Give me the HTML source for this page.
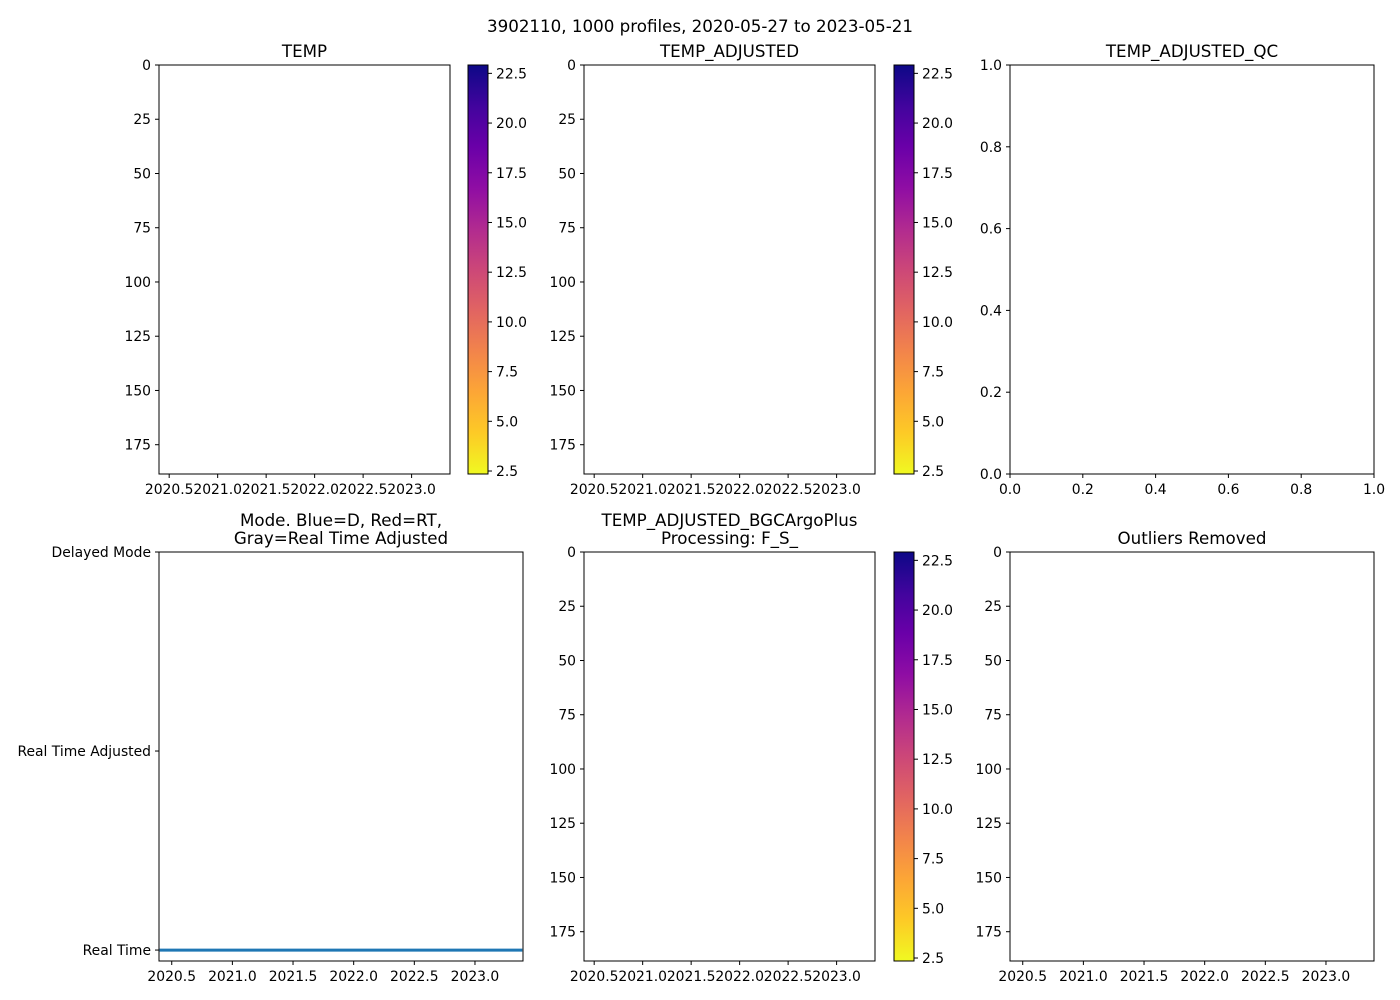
<!DOCTYPE html>
<html><head><meta charset="utf-8"><style>
html,body{margin:0;padding:0;background:#fff;}
svg{display:block;font-family:"DejaVu Sans","Liberation Sans",sans-serif;}
</style></head><body>
<svg id="fig" width="1400" height="1000" viewBox="0 0 1400 1000">
<defs>
<linearGradient id="plasma" x1="0" y1="1" x2="0" y2="0">
<stop offset="0" stop-color="#f0f921"/><stop offset="0.1" stop-color="#fdca26"/>
<stop offset="0.2" stop-color="#fca636"/><stop offset="0.3" stop-color="#f2844b"/>
<stop offset="0.4" stop-color="#e16462"/><stop offset="0.5" stop-color="#cc4778"/>
<stop offset="0.6" stop-color="#b12a90"/><stop offset="0.7" stop-color="#8f0da4"/>
<stop offset="0.8" stop-color="#6a00a8"/><stop offset="0.9" stop-color="#41049d"/>
<stop offset="1" stop-color="#0d0887"/>
</linearGradient>
</defs>
<text x="700" y="32" text-anchor="middle" font-size="16.7">3902110, 1000 profiles, 2020-05-27 to 2023-05-21</text>
</svg>
<script>
const timeTicks = [2020.5, 2021.0, 2021.5, 2022.0, 2022.5, 2023.0];
const depthTicks = [0, 25, 50, 75, 100, 125, 150, 175];
const cbarTicks = [2.5, 5.0, 7.5, 10.0, 12.5, 15.0, 17.5, 20.0, 22.5];
const qcTicks = [0, 0.2, 0.4, 0.6, 0.8, 1.0];
const modeLabels = ["Real Time", "Real Time Adjusted", "Delayed Mode"];
const modeTimes = [2020.40, 2023.39];
const modeValues = [0, 0];
const timeDomain = [2020.395, 2023.396];
const depthDomain = [0, 188.5];
const cbarDomain = [2.35, 22.92];

const NS = "http://www.w3.org/2000/svg";
const svg = document.getElementById("fig");
const FS = 13.9;
function el(tag, attrs, parent) {
  const e = document.createElementNS(NS, tag);
  for (const k in attrs) e.setAttribute(k, attrs[k]);
  (parent || svg).appendChild(e);
  return e;
}
function scale(d0, d1, r0, r1) { return v => r0 + (v - d0) / (d1 - d0) * (r1 - r0); }
function txt(x, y, s, anchor, size, parent) {
  const t = el("text", {x: x, y: y, "text-anchor": anchor, "font-size": size || FS, fill: "#000"}, parent);
  t.textContent = s;
  return t;
}
function fmt(v, d) { return v.toFixed(d); }

function panel(name, x0, y0, w, h, title) {
  const g = el("g", {});
  
  
  el("rect", {x: x0, y: y0, width: w, height: h, fill: "#fff", stroke: "none"}, g);
  if (title) {
    const lines = title.split("\n");
    lines.forEach((ln, i) => {
      const t = txt(x0 + w / 2, y0 - 8 - (lines.length - 1 - i) * 18, ln, "middle", 16.7, g);
      
      
    });
  }
  return g;
}
function frame(g, x0, y0, w, h) {
  el("rect", {x: x0, y: y0, width: w, height: h, fill: "none", stroke: "#000", "stroke-width": 1}, g);
}
function xAxis(g, x0, y1, w, dom, ticks, dec) {
  const sx = scale(dom[0], dom[1], x0, x0 + w);
  const ax = el("g", {}, g);
  
  
  ticks.forEach(v => {
    const x = sx(v);
    el("line", {x1: x, y1: y1, x2: x, y2: y1 + 4, stroke: "#000"}, ax);
    txt(x, y1 + 20, fmt(v, dec), "middle", FS, ax);
  });
}
function yAxis(g, x0, y0, h, dom, ticks, labels) {
  const sy = scale(dom[0], dom[1], y0, y0 + h);
  const ax = el("g", {}, g);
  
  
  ticks.forEach((v, i) => {
    const y = sy(v);
    el("line", {x1: x0 - 4, y1: y, x2: x0, y2: y, stroke: "#000"}, ax);
    txt(x0 - 8, y + 5, labels ? labels[i] : String(v), "end", FS, ax);
  });
}
function colorbar(x0, y0, w, h, name) {
  const g = el("g", {});
  
  
  el("rect", {x: x0, y: y0, width: w, height: h, fill: "url(#plasma)", stroke: "#000", "stroke-width": 1}, g);
  const sy = scale(cbarDomain[0], cbarDomain[1], y0 + h, y0);
  cbarTicks.forEach(v => {
    const y = sy(v);
    el("line", {x1: x0 + w, y1: y, x2: x0 + w + 4, y2: y, stroke: "#000"}, g);
    txt(x0 + w + 8, y + 5, fmt(v, 1), "start", FS, g);
  });
}
function depthPanel(name, x0, y0, w, h, title, cb) {
  const g = panel(name, x0, y0, w, h, title);
  xAxis(g, x0, y0 + h, w, timeDomain, timeTicks, 1);
  yAxis(g, x0, y0, h, depthDomain, depthTicks);
  frame(g, x0, y0, w, h);
  if (cb) colorbar(cb, y0, 20, h, name + "-colorbar");
}

depthPanel("temp-panel", 159, 65, 291, 409, "TEMP", 468);
depthPanel("temp-adjusted-panel", 584, 65, 291, 409, "TEMP_ADJUSTED", 894);

(function () {
  const x0 = 1010, y0 = 65, w = 364, h = 409;
  const g = panel("temp-adjusted-qc-panel", x0, y0, w, h, "TEMP_ADJUSTED_QC");
  xAxis(g, x0, y0 + h, w, [0, 1], qcTicks, 1);
  const sy = scale(0, 1, y0 + h, y0);
  const ax = el("g", {}, g);
  
  
  qcTicks.forEach(v => {
    const y = sy(v);
    el("line", {x1: x0 - 4, y1: y, x2: x0, y2: y, stroke: "#000"}, ax);
    txt(x0 - 8, y + 5, fmt(v, 1), "end", FS, ax);
  });
  frame(g, x0, y0, w, h);
})();

(function () {
  const x0 = 159, y0 = 552, w = 364, h = 409;
  const g = panel("mode-panel", x0, y0, w, h, "Mode. Blue=D, Red=RT,\nGray=Real Time Adjusted");
  xAxis(g, x0, y0 + h, w, timeDomain, timeTicks, 1);
  const sy = scale(-0.055, 2.0, y0 + h, y0);
  yAxis(g, x0, y0, h, [2.0, -0.055], [0, 1, 2], modeLabels);
  const sx = scale(timeDomain[0], timeDomain[1], x0, x0 + w);
  const pts = modeTimes.map((t, i) => sx(t).toFixed(1) + "," + sy(modeValues[i]).toFixed(1)).join(" ");
  const line = el("polyline", {points: pts, fill: "none", stroke: "#1f77b4", "stroke-width": 3}, g);
  
  
  frame(g, x0, y0, w, h);
})();

depthPanel("bgc-argo-plus-panel", 584, 552, 291, 409, "TEMP_ADJUSTED_BGCArgoPlus\nProcessing: F_S_", 894);
depthPanel("outliers-removed-panel", 1010, 552, 364, 409, "Outliers Removed", 0);
</script>
</body></html>
